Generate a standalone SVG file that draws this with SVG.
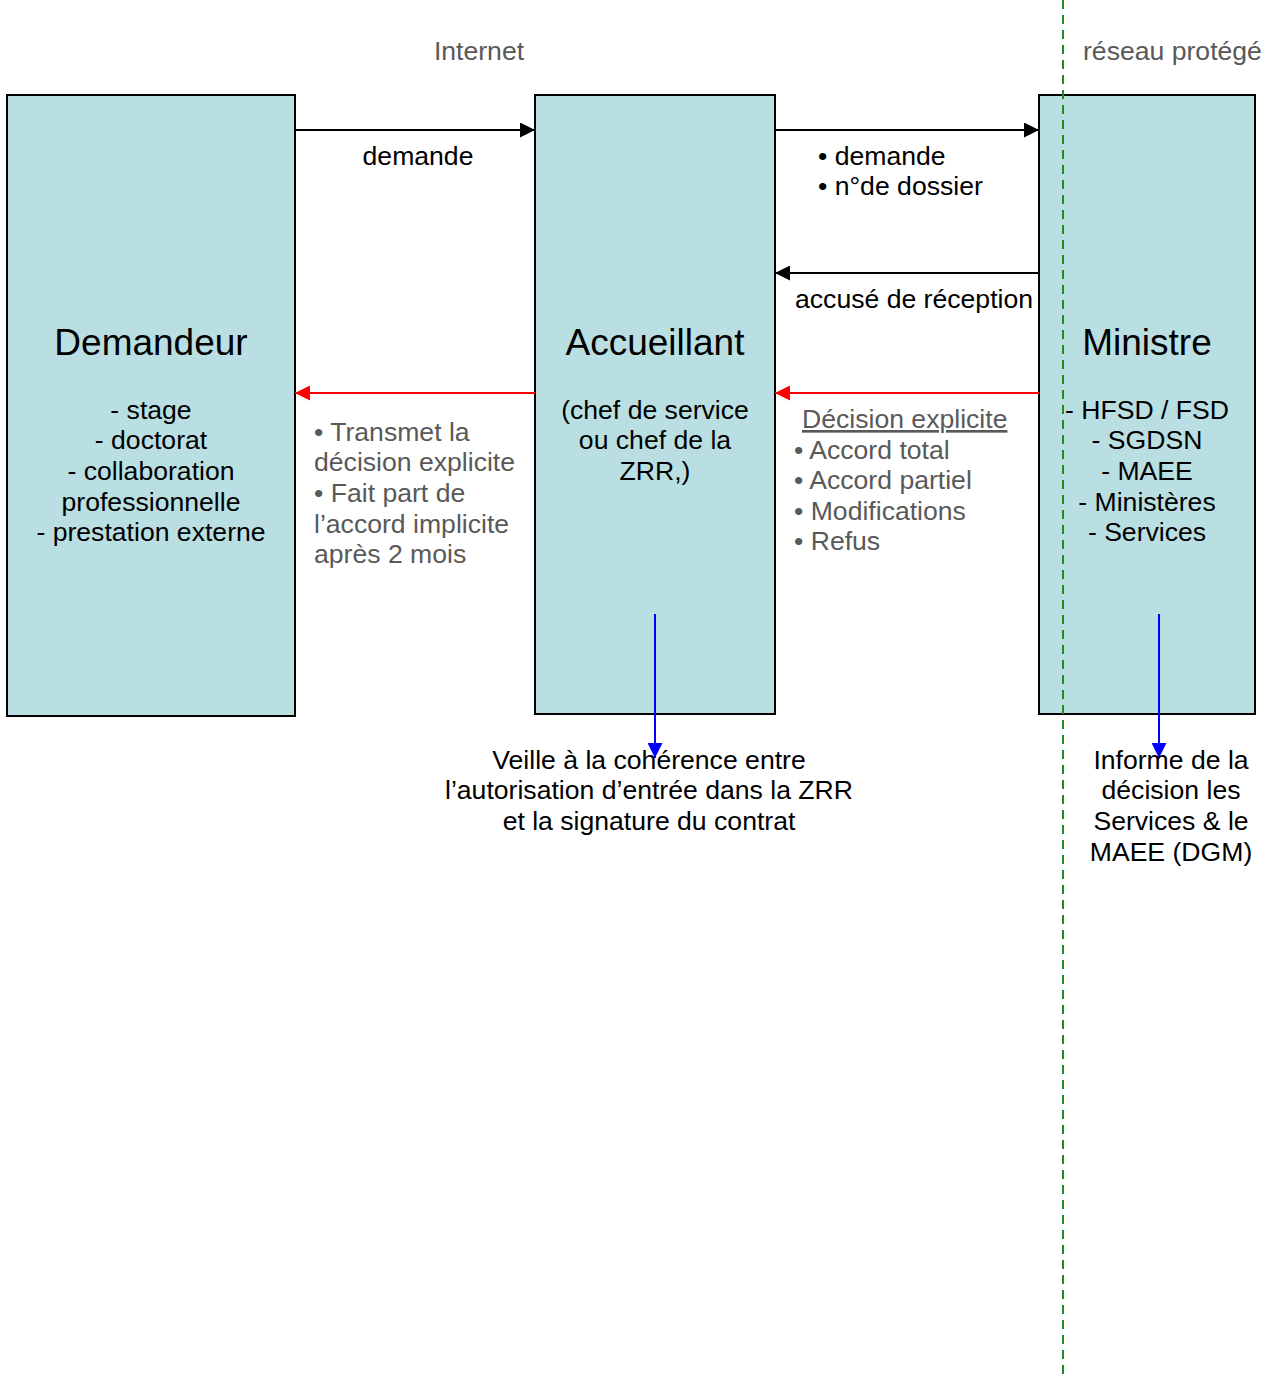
<svg xmlns="http://www.w3.org/2000/svg" width="1272" height="1374" viewBox="0 0 1272 1374">
<defs>
<style>
text{font-family:"Liberation Sans",Arial,sans-serif;font-size:26.6px;fill:#000}
.t{font-size:37px}
.g{fill:#595959}
.m{text-anchor:middle}
.box{fill:#B9DFE2;stroke:#000;stroke-width:2}
.c{fill:none;stroke-width:2}
</style>
<marker id="ab" viewBox="0 0 10 10" refX="10" refY="5" markerWidth="15" markerHeight="15" markerUnits="userSpaceOnUse" orient="auto"><path d="M0,0L10,5L0,10z" fill="#000"/></marker>
<marker id="ar" viewBox="0 0 10 10" refX="10" refY="5" markerWidth="15" markerHeight="15" markerUnits="userSpaceOnUse" orient="auto"><path d="M0,0L10,5L0,10z" fill="#F00"/></marker>
<marker id="au" viewBox="0 0 10 10" refX="10" refY="5" markerWidth="15" markerHeight="15" markerUnits="userSpaceOnUse" orient="auto"><path d="M0,0L10,5L0,10z" fill="#00F"/></marker>
</defs>
<rect width="1272" height="1374" fill="#fff"/>
<text class="g m" x="479" y="60">Internet</text>
<text class="g" x="1083" y="60">réseau protégé</text>
<g id="demandeur">
<rect class="box" x="7" y="95" width="288" height="621"/>
<text class="t m" x="151" y="355">Demandeur</text>
<text class="m" x="151" y="419">- stage</text>
<text class="m" x="151" y="449">- doctorat</text>
<text class="m" x="151" y="480">- collaboration</text>
<text class="m" x="151" y="511">professionnelle</text>
<text class="m" x="151" y="541">- prestation externe</text>
</g>
<g id="accueillant">
<rect class="box" x="535" y="95" width="240" height="619"/>
<text class="t m" x="655" y="355">Accueillant</text>
<text class="m" x="655" y="419">(chef de service</text>
<text class="m" x="655" y="449">ou chef de la</text>
<text class="m" x="655" y="480">ZRR,)</text>
</g>
<g id="ministre">
<rect class="box" x="1039" y="95" width="216" height="619"/>
<text class="t m" x="1147" y="355">Ministre</text>
<text class="m" x="1147" y="419">- HFSD / FSD</text>
<text class="m" x="1147" y="449">- SGDSN</text>
<text class="m" x="1147" y="480">- MAEE</text>
<text class="m" x="1147" y="511">- Ministères</text>
<text class="m" x="1147" y="541">- Services</text>
</g>
<line x1="1063" y1="0" x2="1063" y2="1374" stroke="#228B22" stroke-width="2" stroke-dasharray="9,6"/>
<g id="connectors">
<line class="c" x1="295" y1="130" x2="535" y2="130" stroke="#000" marker-end="url(#ab)"/>
<line class="c" x1="775" y1="130" x2="1039" y2="130" stroke="#000" marker-end="url(#ab)"/>
<line class="c" x1="1039" y1="273" x2="775" y2="273" stroke="#000" marker-end="url(#ab)"/>
<line class="c" x1="535" y1="393" x2="295" y2="393" stroke="#F00" marker-end="url(#ar)"/>
<line class="c" x1="1039" y1="393" x2="775" y2="393" stroke="#F00" marker-end="url(#ar)"/>
<line class="c" x1="655" y1="614" x2="655" y2="758" stroke="#00F" marker-end="url(#au)"/>
<line class="c" x1="1159" y1="614" x2="1159" y2="758" stroke="#00F" marker-end="url(#au)"/>
</g>
<g id="labels">
<text class="m" x="418" y="165">demande</text>
<text x="818" y="165">• demande</text>
<text x="818" y="195">• n°de dossier</text>
<text x="795" y="308">accusé de réception</text>
<text class="g" x="314" y="441">• Transmet la</text>
<text class="g" x="314" y="471">décision explicite</text>
<text class="g" x="314" y="502">• Fait part de</text>
<text class="g" x="314" y="533">l’accord implicite</text>
<text class="g" x="314" y="563">après 2 mois</text>
<text class="g" x="802" y="428" text-decoration="underline">Décision explicite</text>
<text class="g" x="794" y="459">• Accord total</text>
<text class="g" x="794" y="489">• Accord partiel</text>
<text class="g" x="794" y="520">• Modifications</text>
<text class="g" x="794" y="550">• Refus</text>
<text class="m" x="649" y="769">Veille à la cohérence entre</text>
<text class="m" x="649" y="799">l’autorisation d’entrée dans la ZRR</text>
<text class="m" x="649" y="830">et la signature du contrat</text>
<text class="m" x="1171" y="769">Informe de la</text>
<text class="m" x="1171" y="799">décision les</text>
<text class="m" x="1171" y="830">Services &amp; le</text>
<text class="m" x="1171" y="861">MAEE (DGM)</text>
</g>
</svg>
